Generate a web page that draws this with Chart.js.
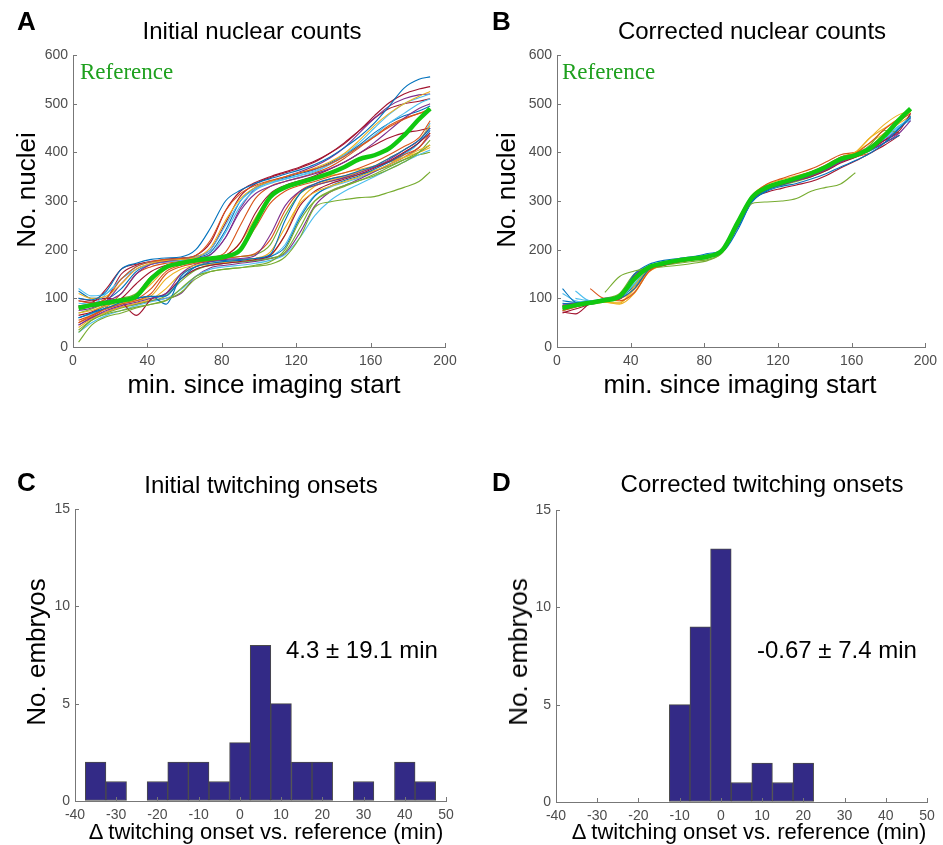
<!DOCTYPE html>
<html><head><meta charset="utf-8">
<script src="https://cdn.jsdelivr.net/npm/chart.js@4.4.1/dist/chart.umd.min.js"></script>
<style>
body{margin:0;background:#fff;}
#wrap{position:relative;width:943px;height:845px;overflow:hidden;font-family:"Liberation Sans",Arial,sans-serif;background:#fff;}
canvas{position:absolute;}
.t{position:absolute;white-space:nowrap;line-height:1;color:#000;z-index:2;}
.c{transform:translateX(-50%);}
.r{transform:translate(-50%,-50%) rotate(-90deg);}
.ref{font-family:"Liberation Serif","Times New Roman",serif;color:#1ea01e;font-size:23px;}
</style></head><body><div id="wrap">
<canvas id="cA" width="470" height="420" style="left:0;top:0"></canvas>
<canvas id="cB" width="473" height="420" style="left:470px;top:0"></canvas>
<canvas id="cC" width="470" height="405" style="left:0;top:440px"></canvas>
<canvas id="cD" width="473" height="405" style="left:470px;top:440px"></canvas>

<div class="t" style="left:17px;top:8px;font-size:26px;font-weight:bold">A</div>
<div class="t" style="left:492px;top:8px;font-size:26px;font-weight:bold">B</div>
<div class="t" style="left:17px;top:469px;font-size:26px;font-weight:bold">C</div>
<div class="t" style="left:492px;top:469px;font-size:26px;font-weight:bold">D</div>

<div class="t c" style="left:252px;top:19px;font-size:24px">Initial nuclear counts</div>
<div class="t c" style="left:752px;top:19px;font-size:24px">Corrected nuclear counts</div>
<div class="t c" style="left:261px;top:473px;font-size:24px">Initial twitching onsets</div>
<div class="t c" style="left:762px;top:472px;font-size:24px">Corrected twitching onsets</div>

<div class="t r" style="left:26px;top:190px;font-size:26px">No. nuclei</div>
<div class="t r" style="left:506px;top:190px;font-size:26px">No. nuclei</div>
<div class="t r" style="left:36px;top:652px;font-size:26px">No. embryos</div>
<div class="t r" style="left:518px;top:652px;font-size:26px">No. embryos</div>

<div class="t c" style="left:264px;top:371px;font-size:26px">min. since imaging start</div>
<div class="t c" style="left:740px;top:371px;font-size:26px">min. since imaging start</div>
<div class="t c" style="left:266px;top:821px;font-size:22px">Δ twitching onset vs. reference (min)</div>
<div class="t c" style="left:749px;top:821px;font-size:22px">Δ twitching onset vs. reference (min)</div>

<div class="t ref" style="left:80px;top:60px">Reference</div>
<div class="t ref" style="left:562px;top:60px">Reference</div>

<div class="t" style="left:286px;top:638px;font-size:24px">4.3 ± 19.1 min</div>
<div class="t" style="left:757px;top:638px;font-size:24px">-0.67 ± 7.4 min</div>
</div>
<script>
// ---------- DATA ----------
const minutes = [3, 10, 18, 26, 34, 42, 50, 58, 66, 74, 82, 90, 98, 106, 114, 122, 130, 138, 146, 154, 162, 170, 178, 186, 192];
const referenceCounts = [80, 86, 91, 96, 104, 140, 164, 172, 178, 182, 186, 200, 255, 308, 328, 338, 347, 357, 370, 386, 394, 408, 435, 468, 490];

const initialCurves = [
  [100, 97, 115, 160, 172, 180, 183, 185, 200, 245, 300, 322, 336, 346, 355, 364, 375, 390, 410, 432, 460, 495, 532, 550, 555],
  [95, 90, 100, 140, 165, 175, 180, 182, 188, 220, 280, 315, 332, 342, 350, 358, 366, 376, 392, 412, 432, 452, 468, 480, 485],
  [110, 100, 105, 130, 160, 172, 178, 180, 184, 205, 260, 305, 328, 340, 350, 358, 368, 380, 398, 425, 455, 480, 500, 515, 525],
  [85, 88, 95, 110, 150, 170, 176, 180, 182, 190, 225, 280, 315, 330, 340, 348, 356, 366, 380, 398, 420, 445, 470, 490, 500],
  [10, 45, 62, 70, 80, 88, 96, 112, 140, 155, 160, 163, 166, 170, 185, 225, 287, 298, 303, 307, 309, 318, 328, 340, 360],
  [120, 105, 110, 140, 165, 175, 178, 182, 186, 200, 250, 300, 325, 338, 345, 352, 360, 375, 395, 420, 450, 478, 500, 512, 520],
  [95, 92, 120, 160, 170, 175, 178, 182, 188, 215, 280, 320, 338, 350, 360, 370, 382, 398, 418, 445, 475, 502, 520, 530, 535],
  [60, 70, 80, 92, 100, 104, 105, 140, 165, 172, 176, 178, 182, 190, 260, 315, 335, 345, 352, 362, 372, 388, 405, 425, 450],
  [55, 65, 78, 88, 95, 110, 150, 165, 172, 178, 182, 200, 245, 295, 320, 332, 340, 350, 358, 368, 380, 395, 412, 430, 465],
  [70, 75, 85, 90, 95, 105, 140, 160, 168, 172, 175, 178, 182, 195, 245, 295, 318, 330, 340, 350, 362, 375, 390, 405, 415],
  [45, 60, 75, 85, 92, 100, 110, 150, 170, 176, 180, 182, 188, 230, 290, 320, 332, 340, 348, 358, 370, 385, 405, 425, 450],
  [30, 55, 68, 75, 82, 88, 95, 120, 145, 155, 160, 163, 168, 175, 200, 260, 300, 318, 330, 342, 355, 370, 385, 400, 415],
  [90, 88, 110, 140, 160, 170, 175, 178, 182, 190, 235, 290, 322, 336, 345, 353, 362, 375, 392, 412, 435, 460, 480, 500, 510],
  [100, 95, 100, 92, 65, 98, 110, 140, 160, 168, 172, 176, 180, 188, 230, 290, 320, 335, 345, 355, 368, 382, 400, 420, 440],
  [60, 70, 85, 95, 100, 104, 88, 145, 165, 175, 178, 180, 182, 186, 205, 265, 310, 330, 342, 352, 365, 380, 398, 420, 445],
  [50, 62, 82, 110, 150, 165, 172, 176, 180, 184, 195, 250, 305, 330, 340, 348, 358, 370, 388, 410, 432, 455, 470, 480, 490],
  [40, 58, 72, 82, 90, 98, 120, 150, 165, 170, 174, 178, 182, 188, 230, 300, 330, 342, 350, 360, 372, 388, 405, 425, 455],
  [75, 80, 95, 130, 160, 170, 175, 178, 182, 190, 225, 285, 325, 340, 350, 360, 372, 388, 410, 440, 470, 495, 510, 518, 520],
  [35, 55, 70, 80, 88, 95, 105, 135, 158, 168, 172, 175, 178, 182, 195, 245, 300, 320, 332, 342, 352, 365, 380, 400, 425],
  [30, 50, 65, 75, 85, 93, 100, 118, 145, 160, 165, 168, 172, 178, 190, 225, 270, 300, 320, 335, 350, 365, 380, 395, 405],
  [65, 72, 88, 100, 130, 155, 168, 174, 178, 182, 188, 215, 275, 315, 332, 342, 352, 365, 380, 398, 415, 430, 440, 445, 450],
  [115, 100, 100, 120, 155, 170, 176, 180, 184, 195, 240, 300, 328, 340, 348, 356, 365, 378, 395, 415, 440, 460, 475, 485, 495],
  [50, 65, 80, 90, 98, 120, 155, 168, 174, 178, 182, 186, 192, 220, 280, 320, 335, 345, 352, 360, 370, 380, 395, 410, 440],
  [85, 85, 90, 98, 105, 130, 160, 170, 176, 180, 188, 215, 265, 310, 328, 338, 345, 352, 358, 365, 372, 380, 390, 400, 410],
  [45, 60, 72, 82, 88, 95, 100, 110, 145, 163, 168, 172, 176, 182, 192, 235, 290, 318, 332, 345, 360, 375, 390, 410, 435],
  [70, 78, 90, 100, 110, 145, 165, 172, 176, 180, 183, 186, 190, 210, 270, 315, 332, 340, 348, 355, 362, 372, 385, 395, 400],
  [60, 68, 80, 88, 95, 100, 108, 140, 160, 168, 172, 175, 178, 185, 210, 270, 312, 328, 338, 348, 360, 375, 395, 420, 460],
  [80, 90, 100, 150, 168, 176, 180, 183, 186, 200, 255, 310, 335, 348, 358, 368, 380, 398, 420, 445, 470, 490, 500, 505, 510]
];

const correctedCurves = [
  [120, 92, 88, 95, 100, 120, 160, 172, 178, 182, 188, 198, 250, 300, 320, 330, 336, 345, 356, 370, 383, 398, 420, 450, 472],
  [75, 82, 92, 98, 95, 112, 155, 170, 177, 182, 186, 196, 248, 305, 330, 340, 350, 360, 374, 390, 398, 420, 448, 470, 485],
  [null, null, null, 92, 90, 125, 160, 170, 176, 180, 185, 198, 252, 306, 330, 340, 349, 358, 370, 390, 400, 430, 450, 470, 482],
  [85, 90, 92, 97, 100, 140, 165, 172, 177, 181, 185, 199, 250, 302, 325, 334, 342, 352, 364, 380, 392, 405, 420, 440, 465],
  [null, null, null, 112, 145, 156, 162, 165, 168, 172, 178, 195, 250, 295, 298, 300, 305, 320, 328, 335, 358, null, null, null, null],
  [null, 115, 95, 96, 100, 130, 162, 172, 178, 183, 190, 200, 255, 305, 328, 340, 348, 357, 368, 384, 396, 412, 432, 455, 472],
  [72, 68, 90, 95, 98, 145, 160, 168, 175, 180, 185, 196, 250, 305, 326, 334, 342, 350, 362, 378, 390, 405, 425, 445, 480],
  [90, 88, 92, 100, 105, 150, 170, 178, 182, 186, 192, 200, 245, 298, 322, 333, 343, 353, 366, 382, 392, 403, 420, 435, null],
  [null, null, 120, 100, 100, 120, 158, 168, 175, 180, 185, 197, 252, 306, 330, 338, 346, 354, 366, 380, 390, 398, null, null, null],
  [82, 86, 90, 92, 88, 110, 155, 168, 175, 180, 186, 198, 252, 305, 328, 336, 344, 352, 365, 385, 400, 430, 458, 478, 485],
  [88, 90, 93, 98, 102, 148, 166, 172, 177, 181, 186, 200, 255, 306, 328, 338, 346, 356, 368, 385, 395, 410, 425, 440, null],
  [78, 85, 90, 95, 100, 130, 160, 168, 172, 176, 180, 195, 252, 300, 322, 332, 340, 350, 362, 380, 392, 415, 445, 440, null],
  [110, 95, 92, 98, 100, 135, 165, 175, 180, 184, 190, 202, 258, 306, 326, 334, 342, 350, 364, 382, 394, 408, 428, 452, 468],
  [70, 78, 88, 96, 100, 140, 162, 170, 176, 181, 186, 198, 250, 304, 318, 326, 333, 340, 352, 368, 382, 398, 415, 435, null],
  [95, 92, 95, 98, 102, 125, 158, 170, 177, 183, 190, 196, 240, 300, 328, 338, 347, 358, 372, 385, 393, 405, 420, 450, 475],
  [78, 84, 90, 95, 104, 142, 165, 170, 175, 180, 186, 200, 256, 310, 335, 346, 356, 366, 380, 395, 400, 412, 438, 465, 480],
  [85, 88, 88, 92, 92, 118, 155, 168, 176, 180, 185, 200, 260, 312, 334, 344, 352, 360, 372, 390, 400, 420, 440, 460, 475],
  [80, 84, 92, 98, 104, 145, 166, 172, 178, 182, 186, 196, 245, 300, 324, 334, 344, 354, 366, 383, 393, 406, 426, 450, 470],
  [75, 82, 90, 100, 110, 150, 162, 168, 174, 179, 184, 198, 250, 303, 326, 336, 344, 352, 364, 380, 392, 408, 432, 462, 487],
  [null, 100, 95, 97, 100, 128, 160, 172, 178, 182, 188, 200, 254, 305, 326, 335, 344, 353, 366, 383, 395, 410, 430, 455, 465]
];

const binCenters = [-35, -30, -25, -20, -15, -10, -5, 0, 5, 10, 15, 20, 25, 30, 35, 40, 45];
const initialOnsetCounts   = [2, 1, 0, 1, 2, 2, 1, 3, 8, 5, 2, 2, 0, 1, 0, 2, 1];
const correctedOnsetCounts = [0, 0, 0, 0, 0, 5, 9, 13, 1, 2, 1, 2, 0, 0, 0, 0, 0];

// ---------- STYLE ----------
const lineColors = ['#0072BD', '#D95319', '#EDB120', '#7E2F8E', '#77AC30', '#4DBEEE', '#A2142F'];
const refColor = '#10c810';
const axisColor = '#777777';
const tickColor = '#4d4d4d';
const barFill = '#332a86';
const barEdge = '#4a4a4a';
const tickFont = { family: "'Liberation Sans', Arial, sans-serif", size: 14 };

const inwardTicks = {
  id: 'inwardTicks',
  afterDraw(chart) {
    const { ctx, chartArea: a, scales } = chart;
    ctx.save();
    ctx.strokeStyle = axisColor;
    ctx.lineWidth = 1;
    scales.x.ticks.forEach(t => {
      const px = Math.round(scales.x.getPixelForValue(t.value)) + 0.5;
      ctx.beginPath(); ctx.moveTo(px, a.bottom); ctx.lineTo(px, a.bottom - 4); ctx.stroke();
    });
    scales.y.ticks.forEach(t => {
      const py = Math.round(scales.y.getPixelForValue(t.value)) + 0.5;
      ctx.beginPath(); ctx.moveTo(a.left, py); ctx.lineTo(a.left + 4, py); ctx.stroke();
    });
    ctx.restore();
  }
};

function axis(min, max, step, horizontal) {
  return {
    type: 'linear', min, max, offset: false,
    ticks: { stepSize: step, color: tickColor, font: tickFont, padding: horizontal ? 6 : 5, maxRotation: 0, autoSkip: false },
    grid: { display: true, drawOnChartArea: false, drawTicks: false, offset: false, color: axisColor },
    border: { display: true, color: axisColor, width: 1 },
    afterFit: s => { if (horizontal) s.height = 30; else s.width = 50; }
  };
}

function toPoints(arr) { return minutes.map((x, i) => ({ x, y: arr[i] })); }

function lineChart(id, curves, pad) {
  const datasets = [{
    data: toPoints(referenceCounts), borderColor: refColor, borderWidth: 4.5,
    pointRadius: 0, cubicInterpolationMode: 'monotone', fill: false
  }];
  curves.forEach((c, i) => datasets.push({
    data: toPoints(c), borderColor: lineColors[i % lineColors.length], borderWidth: 1.1,
    pointRadius: 0, cubicInterpolationMode: 'monotone', fill: false, spanGaps: false
  }));
  new Chart(document.getElementById(id), {
    type: 'line',
    data: { datasets },
    options: {
      responsive: false, animation: false, devicePixelRatio: 1,
      layout: { padding: pad },
      plugins: { legend: { display: false }, tooltip: { enabled: false }, title: { display: false } },
      scales: { x: axis(0, 200, 40, true), y: axis(0, 600, 100, false) }
    },
    plugins: [inwardTicks]
  });
}

function histChart(id, counts, pad) {
  new Chart(document.getElementById(id), {
    type: 'bar',
    data: {
      datasets: [{
        data: binCenters.map((x, i) => ({ x, y: counts[i] > 0 ? counts[i] : null })),
        backgroundColor: barFill, borderColor: barEdge, borderWidth: 1,
        borderSkipped: false, barPercentage: 1, categoryPercentage: 1
      }]
    },
    options: {
      responsive: false, animation: false, devicePixelRatio: 1,
      layout: { padding: pad },
      plugins: { legend: { display: false }, tooltip: { enabled: false }, title: { display: false } },
      scales: { x: axis(-40, 50, 10, true), y: axis(0, 15, 5, false) }
    },
    plugins: [inwardTicks]
  });
}

lineChart('cA', initialCurves, { left: 23, right: 25, top: 55, bottom: 43 });
lineChart('cB', correctedCurves, { left: 37, right: 16, top: 55, bottom: 43 });
histChart('cC', initialOnsetCounts, { left: 25, right: 24, top: 69, bottom: 14 });
histChart('cD', correctedOnsetCounts, { left: 36, right: 16, top: 70, bottom: 13 });
</script>
</body></html>
